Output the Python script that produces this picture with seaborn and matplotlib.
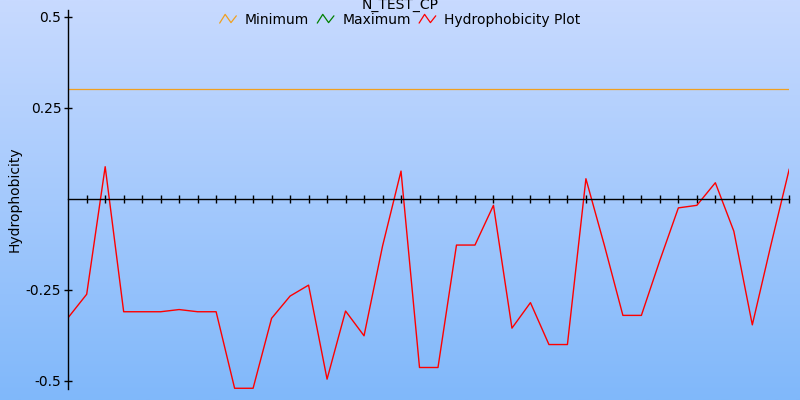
import matplotlib as mpl
mpl.use('Agg')
import matplotlib.pyplot as plt
from matplotlib.lines import Line2D
from matplotlib.legend_handler import HandlerLine2D
import numpy as np
import pandas as pd
import seaborn as sns

sns.set_theme(style="white")
plt.rcParams['font.family'] = ['DejaVu Sans']
plt.rcParams['text.color'] = 'black'
plt.rcParams['axes.labelcolor'] = 'black'
plt.rcParams['ytick.color'] = 'black'

title = "N_TEST_CP"
positions = list(range(40))
hydro = [-0.326, -0.262, 0.088, -0.310, -0.310, -0.310, -0.304, -0.310, -0.310, -0.520,
         -0.520, -0.328, -0.267, -0.237, -0.495, -0.308, -0.376, -0.130, 0.076, -0.463,
         -0.463, -0.127, -0.127, -0.018, -0.355, -0.285, -0.400, -0.400, 0.055, -0.128,
         -0.320, -0.320, -0.169, -0.025, -0.018, 0.044, -0.089, -0.346, -0.128, 0.082]
minimum = 0.301
yticks = [-0.5, -0.25, 0.25, 0.5]
ytick_labels = ["-0.5", "-0.25", "0.25", "0.5"]

df = pd.DataFrame({"pos": positions, "hydro": hydro})
df_min = pd.DataFrame({"pos": [positions[0], positions[-1]], "val": [minimum, minimum]})

fig = plt.figure(figsize=(8, 4), dpi=100)

# gradient background
bg = fig.add_axes([0, 0, 1, 1])
grad = np.linspace(0, 1, 256).reshape(-1, 1)
top = np.array([200, 218, 255]) / 255
bot = np.array([128, 184, 250]) / 255
img = top[None, None, :] * (1 - grad[:, :, None]) + bot[None, None, :] * grad[:, :, None]
bg.imshow(img, aspect='auto', extent=[0, 1, 0, 1])
bg.axis('off')

ax = fig.add_axes([68.2 / 800, 11 / 400, (789.3 - 68.2) / 800, 379 / 400])
ax.patch.set_alpha(0)

sns.lineplot(data=df_min, x="pos", y="val", ax=ax, color="#f0a020", lw=0.9)
sns.lineplot(data=df, x="pos", y="hydro", ax=ax, color="red", lw=1.0)

ax.set_xlim(0, 39)
ax.set_ylim(-0.522, 0.518)

for s in ["top", "right"]:
    ax.spines[s].set_visible(False)
ax.spines["bottom"].set_position(("data", 0))
ax.spines["bottom"].set_color("black")
ax.spines["left"].set_color("black")
ax.spines["bottom"].set_linewidth(1.0)
ax.spines["left"].set_linewidth(1.0)

ax.set_xticks(positions[1:])
ax.set_xticklabels([])
ax.tick_params(axis='x', direction='inout', length=6, width=1, color='black', bottom=True)
ax.set_yticks(yticks)
ax.set_yticklabels(ytick_labels, fontsize=10)
ax.tick_params(axis='y', direction='inout', length=6, width=1, color='black', left=True, pad=2)
ax.set_xlabel("")
ax.set_ylabel("Hydrophobicity", fontsize=10)
ax.yaxis.set_label_coords(-0.064, 0.5)

fig.text(0.5, 1.005, title, ha='center', va='top', fontsize=10)


class ZigZag(HandlerLine2D):
    def create_artists(self, legend, orig_handle, xdescent, ydescent, width, height, fontsize, trans):
        xs = np.array([0, 0.33, 0.68, 1.0]) * width - xdescent
        ys = np.array([0.05, 0.95, 0.1, 0.8]) * height - ydescent
        ln = Line2D(xs, ys, color=orig_handle.get_color(), lw=0.9)
        ln.set_transform(trans)
        return [ln]


handles = [Line2D([], [], color="#f0a020"), Line2D([], [], color="green"), Line2D([], [], color="red")]
labels = ["Minimum", "Maximum", "Hydrophobicity Plot"]
fig.legend(handles, labels, loc='center', bbox_to_anchor=(0.5, 0.951), ncol=3, frameon=False,
           fontsize=10, handler_map={Line2D: ZigZag()}, handlelength=1.2, columnspacing=0.6,
           handletextpad=0.6)

fig.savefig("out.png", dpi=100)
